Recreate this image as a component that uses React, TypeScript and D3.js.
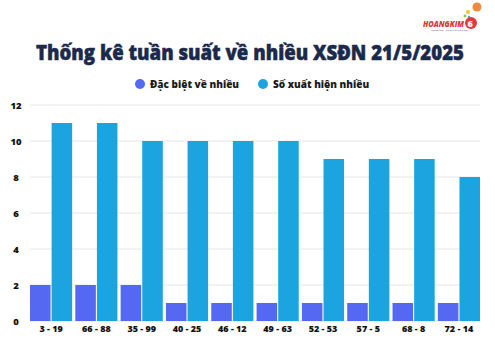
import React from "react";
import * as d3 from "d3";

const categories = ["3 - 19", "66 - 88", "35 - 99", "40 - 25", "46 - 12", "49 - 63", "52 - 53", "57 - 5", "68 - 8", "72 - 14"];
const dacBiet = [2, 2, 2, 1, 1, 1, 1, 1, 1, 1];
const soXuatHien = [11, 11, 10, 10, 10, 10, 9, 9, 9, 8];
const yTicks = [0, 2, 4, 6, 8, 10, 12];
const seriesNames = ["Đặc biệt về nhiều", "Số xuất hiện nhiều"];
const colors = ["#5468f2", "#1ca4e0"];

export default function App() {
  const W = 495, H = 345;
  const left = 30, right = 480, top = 105, bottom = 321;
  const x0 = d3.scaleBand().domain(categories).range([left, right]).paddingInner(0.07).paddingOuter(0);
  const x1 = d3.scaleBand().domain(["a", "b"]).range([0, x0.bandwidth()]).paddingInner(0.05);
  const y = d3.scaleLinear().domain([0, 12]).range([bottom, top]);
  const font = "'Open Sans', 'Noto Sans', sans-serif";
  return (
    <svg width={W} height={H} style={{ position: "absolute", left: 0, top: 0 }}>
      <rect width={W} height={H} fill="#fff" />
      {/* logo */}
      <g>
        <circle cx={477} cy={7} r={4.5} fill="#f08a3a" />
        <circle cx={468} cy={12} r={2} fill="#f2c230" />
        <circle cx={465} cy={16} r={1.4} fill="#8cc63f" />
        <circle cx={469} cy={17} r={1.2} fill="#3aa6dc" />
        <circle cx={471} cy={23} r={6} fill="#e23a3a" />
        <text x={467.5} y={26.5} fontSize={9} fontWeight={800} fill="#fff" fontFamily={font}>6</text>
        <text x={464} y={26.5} fontSize={8} fontWeight={800} fontStyle="italic" fill="#d9363e" textAnchor="end" fontFamily={font} textLength={41} lengthAdjust="spacingAndGlyphs">HOANGKIM</text>
        <text x={431} y={30.5} fontSize={2.5} fill="#555" fontFamily={font}>Khanh Kim - Chinh xac tung giay</text>
      </g>
      <text x={250} y={60} textAnchor="middle" fontSize={21} fontWeight={800} fill="#1b2a4b" stroke="#1b2a4b" strokeWidth={0.5} fontFamily={font} textLength={428} lengthAdjust="spacingAndGlyphs">
        Thống kê tuần suất về nhiều XSĐN 21/5/2025
      </text>
      {/* legend */}
      {seriesNames.map((n, i) => {
        const cx = i === 0 ? 140 : 263;
        return (
          <g key={n}>
            <circle cx={cx} cy={84} r={5} fill={colors[i]} />
            <text x={cx + 10} y={88} fontSize={10} fontWeight={800} fill="#1a1a1a" fontFamily={font}>{n}</text>
          </g>
        );
      })}
      {/* grid */}
      {yTicks.map((t) => (
        <g key={t}>
          <line x1={left} x2={right} y1={y(t)} y2={y(t)} stroke="#e6e6e6" strokeWidth={1} />
          <text x={16} y={y(t) + 3.5} textAnchor="middle" fontSize={9.5} fontWeight={800} fill="#111" fontFamily={font}>{t}</text>
        </g>
      ))}
      {categories.map((c, i) => {
        const gx = x0(c)!;
        return (
          <g key={c}>
            <rect x={gx + x1("a")!} y={y(dacBiet[i])} width={x1.bandwidth()} height={y(0) - y(dacBiet[i])} fill={colors[0]} />
            <rect x={gx + x1("b")!} y={y(soXuatHien[i])} width={x1.bandwidth()} height={y(0) - y(soXuatHien[i])} fill={colors[1]} />
            <text x={gx + x0.bandwidth() / 2} y={332} textAnchor="middle" fontSize={9} fontWeight={800} fill="#111" fontFamily={font}>{c}</text>
          </g>
        );
      })}
    </svg>
  );
}
